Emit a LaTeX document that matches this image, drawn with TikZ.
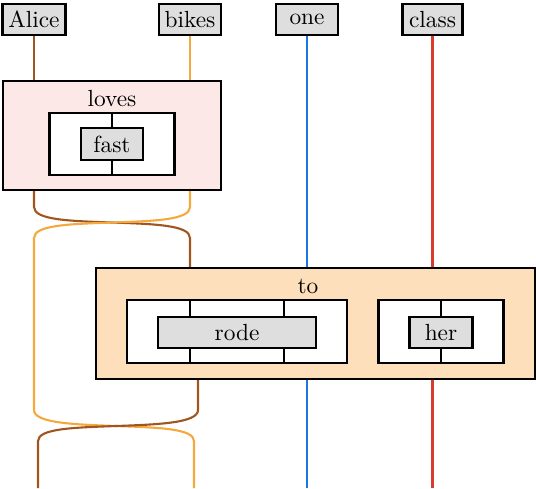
\documentclass[tikz,border=0pt]{standalone}
\usepackage{tikz}

\definecolor{wordgray}{RGB}{222,222,222}
\definecolor{lovesfill}{RGB}{252,232,230}
\definecolor{tofill}{RGB}{253,224,187}
\definecolor{wirebrown}{RGB}{160,85,30}
\definecolor{wireorange}{RGB}{245,168,60}
\definecolor{wireblue}{RGB}{25,120,230}
\definecolor{wirered}{RGB}{215,60,45}

\begin{document}
\begin{tikzpicture}[
  x=0.4286pt, y=-0.4286pt,
  every node/.style={line width=0.9pt, inner sep=0pt},
  word/.style={draw, fill=wordgray, minimum height=13.3pt},
  frame/.style={draw, fill=white},
  wire/.style={line width=0.9pt},
  brownw/.style={wire, wirebrown},
  orangew/.style={wire, wireorange},
  bluew/.style={wire, wireblue},
  redw/.style={wire, wirered}
]

\useasboundingbox (0,0) rectangle (536,488);
\coordinate (bot) at (0,488);

% words on top
\node[word, minimum width=27pt]   (alice) at (34,19.5)    {Alice};
\node[word, minimum width=26.6pt] (bikes) at (190,19.5)   {bikes};
\node[word, minimum width=26.6pt] (one)   at (307,19.5)   {one};
\node[word, minimum width=25.7pt] (class) at (432.5,19.5) {class};

% loves box
\node[draw, fill=lovesfill, minimum width=93.4pt, minimum height=46.7pt] (loves) at (112,135.5) {};
\node (loveslbl) at (112,98.5) {loves};
\node[frame, minimum width=53.6pt, minimum height=26.6pt] (lovesin) at (112,144) {};
\node[word, minimum width=26.6pt, minimum height=13.7pt] (fast) at (112,144) {fast};
\draw[wire] (lovesin.north) -- (fast.north);
\draw[wire] (fast.south) -- (lovesin.south);

% to box
\node[draw, fill=tofill, minimum width=188.2pt, minimum height=47.6pt] (to) at (315.5,323.5) {};
\node (tolbl) at (308,286) {to};
\node[frame, minimum width=94.3pt, minimum height=27pt] (rodein) at (237,331.5) {};
\node[frame, minimum width=53.6pt, minimum height=27pt] (herin) at (441,331.5) {};
\node[word, minimum width=67.7pt] (rode) at (237,332.5) {rode};
\node[word, minimum width=27pt] (her) at (441,332.5) {her};
\foreach \xx in {190,284} {
  \draw[wire] (\xx,0 |- rodein.north) -- (\xx,0 |- rode.north);
  \draw[wire] (\xx,0 |- rode.south) -- (\xx,0 |- rodein.south);
}
\draw[wire] (herin.north) -- (her.north);
\draw[wire] (her.south) -- (herin.south);

% wires
\coordinate (x1) at (112,222.5);
\coordinate (x2) at (116,426);

\draw[brownw] (alice.south) -- (alice |- loves.north);
\draw[orangew] (bikes.south) -- (bikes |- loves.north);
\draw[bluew] (one.south) -- (one |- to.north);
\draw[redw] (class.south) -- (class |- to.north);
\draw[bluew] (one |- to.south) -- (one |- bot);
\draw[redw] (class |- to.south) -- (class |- bot);

% first swap
\draw[brownw] (alice |- loves.south) -- (34,207)
  .. controls (34,220) and (70,221) .. (x1)
  .. controls (154,224) and (190,225) .. (190,238) -- (bikes |- to.north);
\draw[orangew] (bikes |- loves.south) -- (190,207)
  .. controls (190,220) and (154,221) .. (x1)
  .. controls (70,224) and (34,225) .. (34,238) -- (34,410)
  .. controls (34,423) and (74,424.5) .. (x2)
  .. controls (158,427.5) and (194,428.5) .. (194,441) -- (194,0 |- bot);

% second swap
\draw[brownw] (198,0 |- to.south) -- (198,410)
  .. controls (198,423) and (158,424.5) .. (x2)
  .. controls (74,427.5) and (38,428.5) .. (38,441) -- (38,0 |- bot);

\end{tikzpicture}
\end{document}
